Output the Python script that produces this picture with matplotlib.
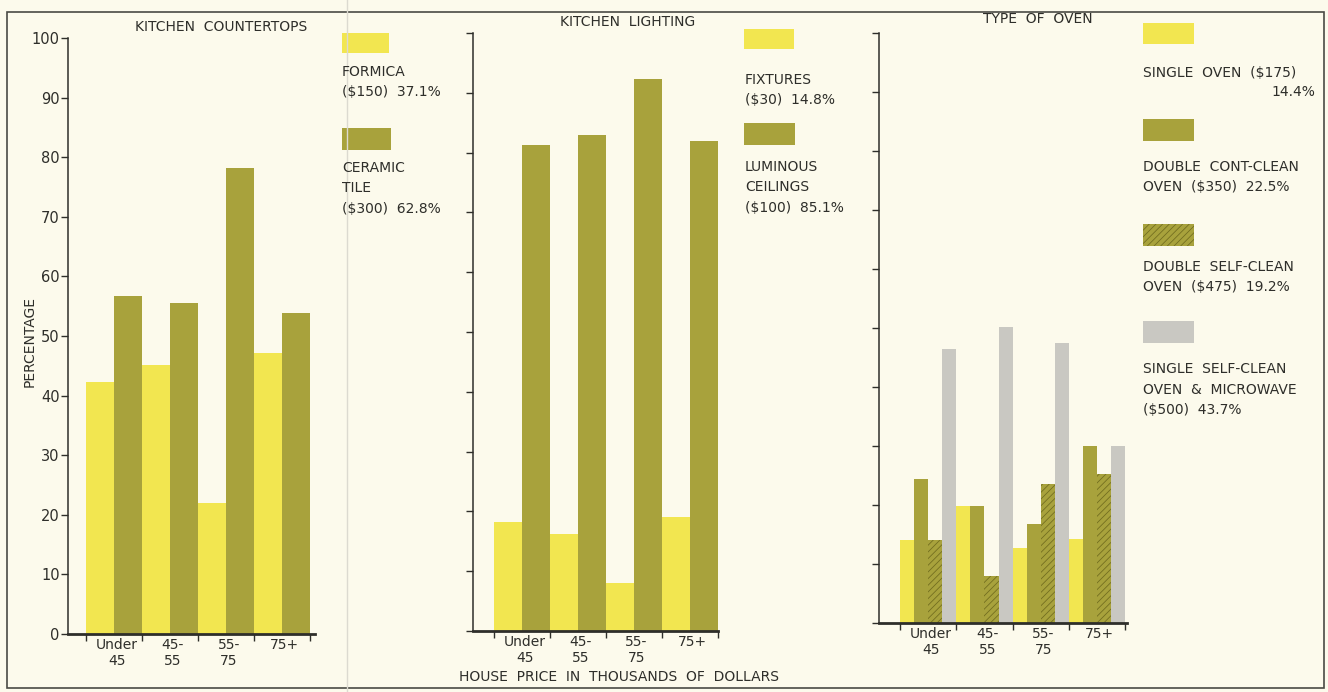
import numpy as np
import matplotlib.pyplot as plt
from matplotlib.patches import Rectangle
from matplotlib.lines import Line2D

# house price groups (thousands of dollars)
groups = ['Under\n45', '45-\n55', '55-\n75', '75+']

# kitchen countertops (%)
formica = [42.3, 45.2, 22.0, 47.1]
ceramic = [56.7, 55.5, 78.2, 53.8]

# kitchen lighting (%)
fixtures = [18.3, 16.3, 8.0, 19.1]
luminous = [81.3, 83.0, 92.3, 81.9]

# type of oven (%)
single_oven = [14.0, 19.8, 12.7, 14.2]
double_cont = [24.4, 19.8, 16.8, 30.0]
double_self = [14.0, 8.0, 23.6, 25.3]
single_self_micro = [46.4, 50.2, 47.4, 30.0]

counter_labels = [['FORMICA', '($150)  37.1%'],
                  ['CERAMIC', 'TILE', '($300)  62.8%']]
lighting_labels = [['FIXTURES', '($30)  14.8%'],
                   ['LUMINOUS', 'CEILINGS', '($100)  85.1%']]
oven_labels = [['SINGLE  OVEN  ($175)', '14.4%'],
               ['DOUBLE  CONT-CLEAN', 'OVEN  ($350)  22.5%'],
               ['DOUBLE  SELF-CLEAN', 'OVEN  ($475)  19.2%'],
               ['SINGLE  SELF-CLEAN', 'OVEN  &  MICROWAVE', '($500)  43.7%']]

BG = '#fcfaec'
YELLOW = '#f2e650'
OLIVE = '#a8a23c'
GREY = '#c9c8c2'
HATCH_EDGE = '#6f6b1e'
INK = '#2e2e2a'

W, H = 1328, 692
plt.rcParams['font.family'] = ['DejaVu Sans']
plt.rcParams['hatch.linewidth'] = 0.55

fig = plt.figure(figsize=(W / 100, H / 100), dpi=100, facecolor=BG)


def fx(px):
    return px / W


def fy(py):
    return 1 - py / H


def panel(x0, x1, ytop, ybot, bar0, gw, series, styles, ylabels=False):
    ax = fig.add_axes([fx(x0), fy(ybot), (x1 - x0) / W, (ybot - ytop) / H])
    ax.set_facecolor('none')
    ax.set_xlim((x0 - bar0) / gw - 0.5, (x1 - bar0) / gw - 0.5)
    ax.set_ylim(0, 100)
    n = len(series)
    x = np.arange(len(groups))
    for k, (vals, st) in enumerate(zip(series, styles)):
        ax.bar(x - 0.5 + (k + 0.5) / n, vals, width=1 / n, linewidth=0, zorder=2, **st)
    for s in ['top', 'right']:
        ax.spines[s].set_visible(False)
    ax.spines['left'].set_linewidth(1.1)
    ax.spines['bottom'].set_linewidth(2.0)
    ax.spines['left'].set_color(INK)
    ax.spines['bottom'].set_color(INK)
    ax.set_yticks(np.arange(0, 101, 10))
    if ylabels:
        ax.set_yticklabels([str(v) for v in range(0, 101, 10)], fontsize=10.5, color=INK)
    else:
        ax.set_yticklabels([])
    ax.tick_params(axis='y', length=5, width=1, color=INK, pad=1)
    ax.set_xticks(np.arange(len(groups) + 1) - 0.5)
    ax.set_xticklabels([])
    ax.tick_params(axis='x', length=5, width=1, color=INK)
    ax.set_xticks(x + 0.05, minor=True)
    ax.set_xticklabels(groups, minor=True, fontsize=10, color=INK, linespacing=1.15)
    ax.tick_params(axis='x', which='minor', length=0, pad=3)
    return ax


def swatch(x0, y0, x1, y1, **st):
    fig.add_artist(Rectangle((fx(x0), fy(y1)), (x1 - x0) / W, (y1 - y0) / H,
                             transform=fig.transFigure, linewidth=0, **st))


def lines(x, y0, items, pitch=20.5, ha='left', size=10):
    for i, t in enumerate(items):
        fig.text(fx(x), fy(y0 + i * pitch), t, ha=ha, va='center', fontsize=size, color=INK)


s_yellow = dict(color=YELLOW)
s_olive = dict(color=OLIVE)
s_hatch = dict(facecolor=OLIVE, hatch='/////', edgecolor=HATCH_EDGE)
s_grey = dict(color=GREY)

# outer frame and page seam
fig.add_artist(Rectangle((fx(7), fy(688)), (1324 - 7) / W, (688 - 12) / H,
                         transform=fig.transFigure, fill=False, linewidth=1.2, edgecolor='#4a4a44'))
fig.add_artist(Line2D([fx(347), fx(347)], [0, 1], transform=fig.transFigure,
                      color='#dcdad0', linewidth=1))

# panel 1: countertops
ax1 = panel(68, 315, 38, 634, 86, 56, [formica, ceramic], [s_yellow, s_olive], ylabels=True)
fig.text(fx(30), fy(342), 'PERCENTAGE', rotation=90, ha='center', va='center',
         fontsize=10, color=INK)
fig.text(fx(221), fy(27), 'KITCHEN  COUNTERTOPS', ha='center', va='center', fontsize=10, color=INK)
swatch(342, 33, 389, 53, **s_yellow)
lines(342, 72, counter_labels[0])
swatch(342, 128, 391, 150, **s_olive)
lines(342, 168, counter_labels[1])

# panel 2: lighting
ax2 = panel(473, 718, 33, 631, 494, 55.9, [fixtures, luminous], [s_yellow, s_olive])
fig.text(fx(628), fy(22), 'KITCHEN  LIGHTING', ha='center', va='center', fontsize=10, color=INK)
swatch(744, 29, 794, 49, **s_yellow)
lines(745, 80, lighting_labels[0])
swatch(744, 123, 795, 145, **s_olive)
lines(745, 167, lighting_labels[1])
fig.text(fx(619), fy(677), 'HOUSE  PRICE  IN  THOUSANDS  OF  DOLLARS', ha='center', va='center',
         fontsize=10, color=INK)

# panel 3: ovens
ax3 = panel(879, 1127, 33, 623, 900, 56.3,
            [single_oven, double_cont, double_self, single_self_micro],
            [s_yellow, s_olive, s_hatch, s_grey])
fig.text(fx(1038), fy(19), 'TYPE  OF  OVEN', ha='center', va='center', fontsize=10, color=INK)
swatch(1143, 23, 1194, 44, **s_yellow)
lines(1143, 73, oven_labels[0][:1])
lines(1315, 92, oven_labels[0][1:], ha='right')
swatch(1143, 119, 1194, 141, **s_olive)
lines(1143, 167, oven_labels[1])
swatch(1143, 224, 1194, 246, **s_hatch)
lines(1143, 267, oven_labels[2])
swatch(1143, 321, 1194, 343, **s_grey)
lines(1143, 369, oven_labels[3])

fig.savefig('out.png', dpi=100, facecolor=BG)
